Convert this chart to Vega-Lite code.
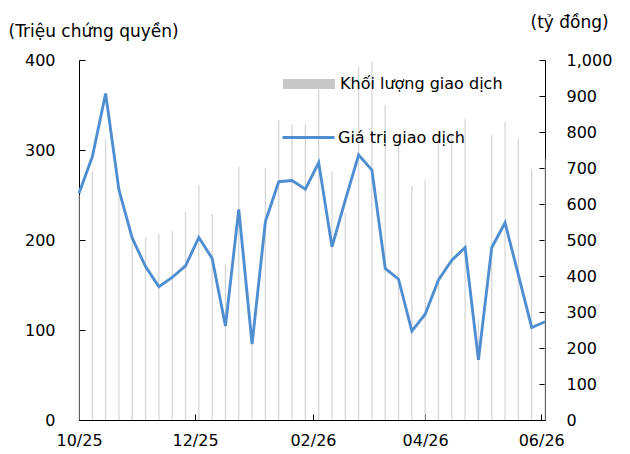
{
  "$schema": "https://vega.github.io/schema/vega-lite/v6.json",
  "width": 466,
  "height": 360,
  "autosize": "none",
  "padding": {"left": 79, "top": 60, "right": 85, "bottom": 34},
  "background": "white",
  "config": {
    "view": {"stroke": null},
    "font": "DejaVu Sans",
    "axis": {
      "labelFont": "DejaVu Sans",
      "labelFontSize": 16,
      "labelColor": "black",
      "domainColor": "black",
      "domainWidth": 1,
      "tickColor": "black",
      "grid": false,
      "titleFont": "DejaVu Sans",
      "titleFontSize": 17,
      "titleFontWeight": "normal",
      "titleColor": "black"
    },
    "legend": {
      "labelFont": "DejaVu Sans",
      "labelFontSize": 16,
      "labelColor": "black",
      "labelLimit": 0,
      "padding": 0
    }
  },
  "data": {
    "values": [
      {"date": "2025-10-01", "volume": 250, "value": 630},
      {"date": "2025-10-08", "volume": 276, "value": 731},
      {"date": "2025-10-15", "volume": 312, "value": 907},
      {"date": "2025-10-22", "volume": 250, "value": 639},
      {"date": "2025-10-29", "volume": 200, "value": 505},
      {"date": "2025-11-05", "volume": 203, "value": 426},
      {"date": "2025-11-12", "volume": 207, "value": 370},
      {"date": "2025-11-19", "volume": 210, "value": 396},
      {"date": "2025-11-26", "volume": 231, "value": 428},
      {"date": "2025-12-03", "volume": 261, "value": 507},
      {"date": "2025-12-10", "volume": 229, "value": 449},
      {"date": "2025-12-17", "volume": 173, "value": 261},
      {"date": "2025-12-24", "volume": 281, "value": 585},
      {"date": "2025-12-31", "volume": 90, "value": 211},
      {"date": "2026-01-07", "volume": 280, "value": 551},
      {"date": "2026-01-14", "volume": 333, "value": 662},
      {"date": "2026-01-21", "volume": 328, "value": 665},
      {"date": "2026-01-28", "volume": 328, "value": 641},
      {"date": "2026-02-04", "volume": 367, "value": 715},
      {"date": "2026-02-11", "volume": 276, "value": 481},
      {"date": "2026-02-18", "volume": 230, "value": 611},
      {"date": "2026-02-25", "volume": 393, "value": 736},
      {"date": "2026-03-04", "volume": 398, "value": 694},
      {"date": "2026-03-11", "volume": 350, "value": 421},
      {"date": "2026-03-18", "volume": 304, "value": 391},
      {"date": "2026-03-25", "volume": 260, "value": 247},
      {"date": "2026-04-01", "volume": 266, "value": 294},
      {"date": "2026-04-08", "volume": 320, "value": 389},
      {"date": "2026-04-15", "volume": 318, "value": 444},
      {"date": "2026-04-22", "volume": 335, "value": 479},
      {"date": "2026-04-29", "volume": 112, "value": 167},
      {"date": "2026-05-06", "volume": 317, "value": 479},
      {"date": "2026-05-13", "volume": 331, "value": 548},
      {"date": "2026-05-20", "volume": 313, "value": 403},
      {"date": "2026-05-27", "volume": 279, "value": 257},
      {"date": "2026-06-03", "volume": 290, "value": 273}
    ]
  },
  "encoding": {
    "x": {
      "field": "date",
      "type": "temporal",
      "scale": {
        "type": "utc",
        "nice": false,
        "padding": 0,
        "domain": [
          {"year": 2025, "month": "oct", "date": 1, "utc": true},
          {"year": 2026, "month": "jun", "date": 3, "utc": true}
        ]
      },
      "axis": {
        "title": null,
        "values": [
          {"year": 2025, "month": "oct", "date": 1, "utc": true},
          {"year": 2025, "month": "dec", "date": 1, "utc": true},
          {"year": 2026, "month": "feb", "date": 1, "utc": true},
          {"year": 2026, "month": "apr", "date": 1, "utc": true},
          {"year": 2026, "month": "jun", "date": 1, "utc": true}
        ],
        "labelExpr": "utcFormat(datum.value, '%m/%y')",
        "tickSize": -6,
        "labelPadding": 18,
        "labelFlush": false,
        "labelOverlap": false
      }
    }
  },
  "layer": [
    {
      "mark": {"type": "bar", "size": 1.3, "opacity": 0.75},
      "encoding": {
        "y": {
          "field": "volume",
          "type": "quantitative",
          "scale": {"domain": [0, 400], "nice": false},
          "axis": {
            "orient": "left",
            "values": [0, 100, 200, 300, 400],
            "tickSize": -6,
            "labelPadding": 30,
            "title": "(Triệu chứng quyền)",
            "titleAngle": 0,
            "titleAlign": "left",
            "titleBaseline": "middle",
            "titleX": -71,
            "titleY": -29
          }
        },
        "fill": {
          "datum": "Khối lượng giao dịch",
          "type": "nominal",
          "scale": {"range": ["#c8c8c8"]},
          "legend": {
            "orient": "none",
            "legendX": 204,
            "legendY": -2,
            "title": null,
            "symbolType": "M-1,-0.19H1V0.19H-1Z",
            "symbolSize": 2704,
            "symbolStrokeWidth": 0,
            "symbolOpacity": 1,
            "labelOffset": 5
          }
        }
      }
    },
    {
      "mark": {"type": "line", "strokeWidth": 2.9},
      "encoding": {
        "y": {
          "field": "value",
          "type": "quantitative",
          "scale": {"domain": [0, 1000], "nice": false},
          "axis": {
            "orient": "right",
            "values": [0, 100, 200, 300, 400, 500, 600, 700, 800, 900, 1000],
            "format": ",d",
            "tickSize": -6,
            "labelPadding": 27,
            "title": "(tỷ đồng)",
            "titleAngle": 0,
            "titleAlign": "left",
            "titleBaseline": "middle",
            "titleX": -15,
            "titleY": -38
          }
        },
        "stroke": {
          "datum": "Giá trị giao dịch",
          "type": "nominal",
          "scale": {"range": ["#4f8fd1"]},
          "legend": {
            "orient": "none",
            "legendX": 202,
            "legendY": 50,
            "title": null,
            "symbolType": "stroke",
            "symbolSize": 2704,
            "symbolStrokeWidth": 3,
            "labelOffset": 2
          }
        }
      }
    }
  ],
  "resolve": {"scale": {"y": "independent", "fill": "independent", "stroke": "independent"}}
}
